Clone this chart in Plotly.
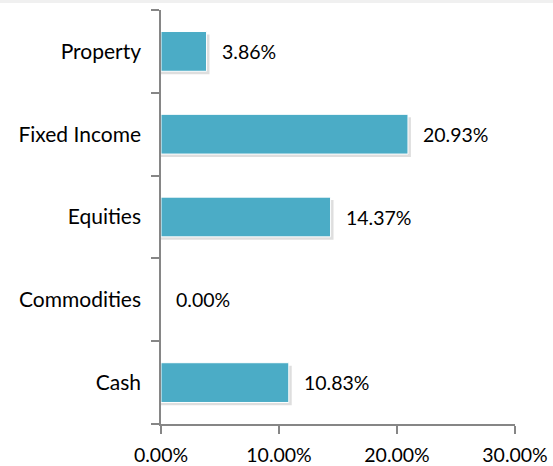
import plotly.graph_objects as go

categories = ["Cash", "Commodities", "Equities", "Fixed Income", "Property"]
values = [10.83, 0.00, 14.37, 20.93, 3.86]
x_ticks = [0, 10, 20, 30]
x_tick_labels = ["0.00%", "10.00%", "20.00%", "30.00%"]

FONT = "Lato"
BAR_W = 0.48
W, H = 553, 466
ML, MR, MT, MB = 161, 38, 10, 42
PW = W - ML - MR

fig = go.Figure()
# soft drop shadow behind bars
fig.add_trace(go.Bar(
    y=categories, x=[v + 0.25 if v > 0 else 0 for v in values], orientation="h",
    marker=dict(color="rgba(0,0,0,0.13)", line=dict(width=0)),
    width=BAR_W, offset=-BAR_W / 2 - 0.035, hoverinfo="skip",
))
fig.add_trace(go.Bar(
    y=categories, x=values, orientation="h",
    marker=dict(color="#4BACC6", line=dict(color="white", width=1)),
    width=BAR_W, offset=-BAR_W / 2, hoverinfo="skip",
))
for c, v in zip(categories, values):
    fig.add_annotation(x=v, y=c, text=f"{v:.2f}%", showarrow=False,
                       xanchor="left", xshift=13,
                       font=dict(family=FONT, size=19.5, color="#000000"))

# faint strip along the top edge of the image
fig.add_shape(type="rect", xref="paper", yref="paper",
              x0=-ML / PW, x1=1 + MR / PW, ysizemode="pixel", yanchor=1,
              y0=MT - 3, y1=MT, line=dict(width=0), fillcolor="#f0f0f0",
              layer="below")

fig.update_layout(
    width=W, height=H,
    margin=dict(l=ML, r=MR, t=MT, b=MB, autoexpand=False),
    paper_bgcolor="white", plot_bgcolor="white",
    showlegend=False, barmode="overlay",
    font=dict(family=FONT, size=19, color="#000000"),
    xaxis=dict(range=[0, 30], tickvals=x_ticks, ticktext=x_tick_labels,
               showgrid=False, zeroline=False, showline=True, automargin=False,
               linecolor="#868686", linewidth=1.5,
               ticks="outside", ticklen=8, tickcolor="#868686", tickwidth=1.5,
               ticklabelstandoff=5,
               tickfont=dict(family=FONT, size=19.5)),
    yaxis=dict(categoryorder="array", categoryarray=categories,
               showgrid=False, zeroline=False, showline=True, automargin=False,
               linecolor="#868686", linewidth=1.5,
               ticks="outside", ticklen=8, tickcolor="#868686", tickwidth=1.5,
               tickson="boundaries", ticklabelstandoff=14,
               tickfont=dict(family=FONT, size=21)),
)
fig.write_html("out.html")
